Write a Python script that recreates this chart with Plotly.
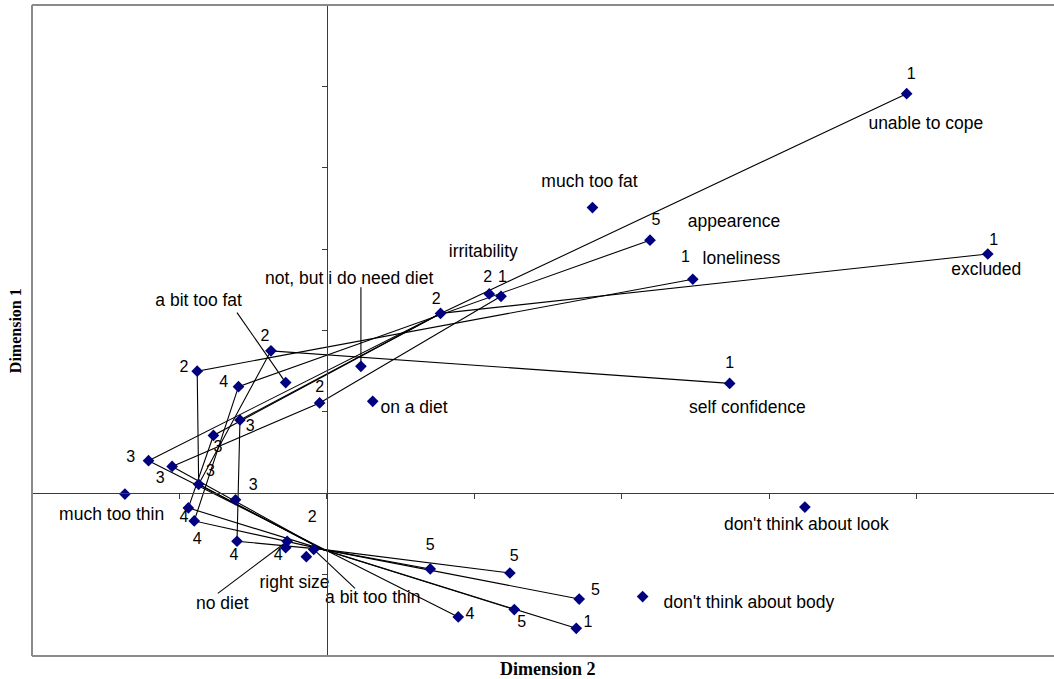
import plotly.graph_objects as go

# ---------------- data (x = Dimension 2, y = Dimension 1) ----------------
pt_id = ["U1", "E1", "L1", "S1", "I1", "A1",
         "P2a", "P2b", "P2c", "P2d", "P2e",
         "T3a", "T3b", "T3c", "T3d", "T3e", "T3f",
         "F4a", "F4b", "F4c", "F4d", "F4e", "F4f",
         "V5a", "V5b", "V5c", "V5d", "V5e",
         "much too fat", "not, but i do need diet", "a bit too fat", "on a diet",
         "much too thin", "no diet", "right size", "a bit too thin",
         "don't think about body", "don't think about look"]
pt_x = [3.93, 4.48, 2.48, 2.73, 1.18, 1.69,
        0.77, 1.10, -0.38, -0.88, -0.05,
        -1.21, -1.05, -0.77, -0.59, -0.87, -0.62,
        -0.60, -0.94, -0.90, -0.61, -0.28, 0.89,
        0.70, 1.24, 1.71, 1.27, 2.19,
        1.80, 0.23, -0.28, 0.31,
        -1.37, -0.27, -0.14, -0.09,
        2.14, 3.24]
pt_y = [4.91, 2.94, 2.63, 1.35, 2.42, -1.66,
        2.21, 2.45, 1.75, 1.50, 1.11,
        0.40, 0.33, 0.71, 0.90, 0.11, -0.08,
        1.31, -0.18, -0.34, -0.59, -0.67, -1.52,
        -0.93, -0.98, -1.30, -1.43, 3.11,
        3.51, 1.56, 1.36, 1.13,
        -0.01, -0.59, -0.78, -0.69,
        -1.27, -0.17]

# common crossing point of the category paths
hub_x = [-0.03]
hub_y = [-0.69]

# category paths (1 -> 5) through the points above
paths = [
    ["U1", "P2a", "T3a", "F4f"],                    # unable to cope
    ["E1", "P2a", "T3c", "F4b", "HUB", "V5a"],      # excluded
    ["S1", "P2c", "T3e", "HUB", "V5d"],             # self confidence
    ["L1", "P2d", "T3e", "HUB", "V5b"],             # loneliness
    ["I1", "P2e", "T3b", "HUB", "V5c"],             # irritability
    ["V5e", "F4a", "F4c", "HUB", "A1"],             # appearence
    ["P2a", "T3d", "F4d", "HUB"],
]

# category number labels
num_text = ["1", "1", "1", "1", "1", "1",
            "2", "2", "2", "2", "2", "2",
            "3", "3", "3", "3", "3", "3",
            "4", "4", "4", "4", "4", "4",
            "5", "5", "5", "5", "5"]
num_x = [3.96, 4.52, 2.43, 2.73, 1.19, 1.77,
         0.74, 1.09, -0.42, -0.97, -0.05, -0.10,
         -1.33, -1.13, -0.74, -0.52, -0.79, -0.50,
         -0.70, -0.97, -0.88, -0.63, -0.33, 0.97,
         0.70, 1.27, 1.82, 1.32, 2.23]
num_y = [5.14, 3.10, 2.89, 1.59, 2.65, -1.60,
         2.38, 2.65, 1.92, 1.54, 1.29, -0.30,
         0.43, 0.18, 0.56, 0.81, 0.26, 0.09,
         1.35, -0.30, -0.57, -0.77, -0.77, -1.49,
         -0.65, -0.78, -1.20, -1.60, 3.34]

# name labels
name_text = ["unable to cope", "excluded", "much too fat", "appearence", "loneliness",
             "irritability", "self confidence", "on a diet", "not, but i do need diet",
             "a bit too fat", "much too thin", "right size", "no diet", "a bit too thin",
             "don't think about body", "don't think about look"]
name_x = [4.06, 4.47, 1.78, 2.76, 2.81, 1.06, 2.85, 0.59, 0.15,
          -0.87, -1.46, -0.22, -0.71, 0.31, 2.86, 3.25]
name_y = [4.53, 2.73, 3.82, 3.32, 2.87, 2.96, 1.04, 1.04, 2.62,
          2.35, -0.27, -1.11, -1.37, -1.29, -1.36, -0.40]

# leader lines: label end -> point
leader_from_x = [-0.61, 0.23, -0.74, 0.19]
leader_from_y = [2.22, 2.53, -1.23, -1.17]
leader_to = ["a bit too fat", "not, but i do need diet", "no diet", "a bit too thin"]

x_ticks = [-2, -1, 0, 1, 2, 3, 4]
y_ticks = [-2, -1, 0, 1, 2, 3, 4, 5, 6]
x_range = [-2, 4.929]
y_range = [-2, 6]

# ---------------- figure ----------------
lookup = {k: (x, y) for k, x, y in zip(pt_id, pt_x, pt_y)}
lookup["HUB"] = (hub_x[0], hub_y[0])

fig = go.Figure()

for p in paths:
    fig.add_trace(go.Scatter(
        x=[lookup[k][0] for k in p], y=[lookup[k][1] for k in p],
        mode="lines", line=dict(color="black", width=1.1),
        hoverinfo="skip", showlegend=False))

for fx, fy, tgt in zip(leader_from_x, leader_from_y, leader_to):
    fig.add_trace(go.Scatter(
        x=[fx, lookup[tgt][0]], y=[fy, lookup[tgt][1]],
        mode="lines", line=dict(color="black", width=1.1),
        hoverinfo="skip", showlegend=False))

fig.add_trace(go.Scatter(
    x=pt_x, y=pt_y, mode="markers",
    marker=dict(symbol="diamond", size=9, color="#000080", line=dict(width=0)),
    text=pt_id, hoverinfo="text", showlegend=False, cliponaxis=False))

fig.add_trace(go.Scatter(
    x=num_x, y=num_y, mode="text", text=num_text, textposition="middle center",
    textfont=dict(family="Liberation Sans, Arial, sans-serif", size=16, color="black"),
    hoverinfo="skip", showlegend=False, cliponaxis=False))

fig.add_trace(go.Scatter(
    x=name_x, y=name_y, mode="text", text=name_text, textposition="middle center",
    textfont=dict(family="Liberation Sans, Arial, sans-serif", size=17.5, color="black"),
    hoverinfo="skip", showlegend=False, cliponaxis=False))

x0_frac = (0 - x_range[0]) / (x_range[1] - x_range[0])
y0_frac = (0 - y_range[0]) / (y_range[1] - y_range[0])

fig.update_layout(
    width=1054, height=679,
    margin=dict(l=32, r=0, t=5, b=23),
    paper_bgcolor="white", plot_bgcolor="white",
    xaxis=dict(range=x_range, showgrid=False, zeroline=False,
               showline=True, linecolor="#3a3a3a", linewidth=1,
               anchor="free", position=y0_frac,
               ticks="outside", ticklen=5, tickcolor="#3a3a3a", tickwidth=1,
               tickvals=x_ticks, showticklabels=False),
    yaxis=dict(range=y_range, showgrid=False, zeroline=False,
               showline=True, linecolor="#3a3a3a", linewidth=1,
               anchor="free", position=x0_frac,
               ticks="outside", ticklen=5, tickcolor="#3a3a3a", tickwidth=1,
               tickvals=y_ticks, showticklabels=False),
    shapes=[
        dict(type="line", xref="paper", yref="paper", x0=0, x1=0, y0=0, y1=1,
             line=dict(color="#8a8a8a", width=2)),
        dict(type="line", xref="paper", yref="paper", x0=0, x1=1, y0=1, y1=1,
             line=dict(color="#8a8a8a", width=2)),
        dict(type="line", xref="paper", yref="paper", x0=0, x1=1, y0=0, y1=0,
             line=dict(color="#8a8a8a", width=2)),
    ],
    annotations=[
        dict(text="<b>Dimension 2</b>", xref="paper", yref="paper",
             x=0.505, y=0, yshift=-13, showarrow=False, yanchor="middle",
             font=dict(family="Liberation Serif, Times New Roman, serif", size=18, color="black")),
        dict(text="<b>Dimension 1</b>", xref="paper", yref="paper",
             x=0, xshift=-17, y=0.499, showarrow=False, textangle=-90,
             xanchor="center", yanchor="middle",
             font=dict(family="Liberation Serif, Times New Roman, serif", size=16, color="black")),
    ],
)

fig.write_html("out.html")
